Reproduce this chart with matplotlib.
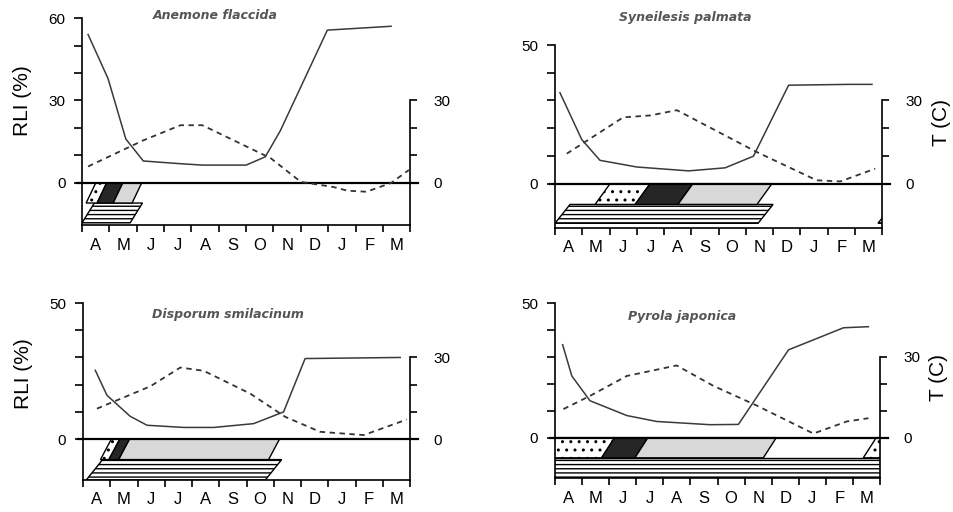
import matplotlib
matplotlib.use('Agg')
import matplotlib.pyplot as plt
from matplotlib.patches import Polygon

plt.rcParams['font.family'] = ['Liberation Sans', 'DejaVu Sans']
plt.rcParams['hatch.linewidth'] = 1.0

months = ['A', 'M', 'J', 'J', 'A', 'S', 'O', 'N', 'D', 'J', 'F', 'M']

# Anemone flaccida
af_rli_x = [0.22, 0.95, 1.6, 2.24, 3.6, 4.4, 6.0, 6.7, 7.25, 8.97, 11.3]
af_rli = [54, 38, 16, 8, 7, 6.5, 6.5, 9.5, 19, 55.6, 57]
af_t_x = [0.22, 2.24, 3.6, 4.4, 6.9, 8.0, 9.2, 9.7, 10.4, 11.3, 11.95]
af_t = [6, 15.5, 21, 21, 9, 0.4, -1.5, -2.8, -3.2, 0, 4.7]
af_up_start = [0.15, 0.55, 1.14]
af_up_end = [0.55, 1.14, 1.83]
af_up_kind = ['dot', 'dark', 'grey']
af_low_start = [0.0]
af_low_end = [1.76]

# Syneilesis palmata
sp_rli_x = [0.18, 0.98, 1.65, 3.0, 4.9, 6.24, 7.28, 8.57, 10.77, 11.63]
sp_rli = [32.8, 15.9, 8.4, 6.0, 4.6, 5.7, 9.9, 35.5, 35.8, 35.8]
sp_t_x = [0.43, 2.5, 3.5, 4.47, 7.4, 9.6, 10.47, 11.75]
sp_t = [10.8, 23.9, 24.6, 26.5, 11.4, 1.2, 0.8, 5.4]
sp_up_start = [1.47, 2.94, 4.51]
sp_up_end = [2.94, 4.51, 7.41]
sp_up_kind = ['dot', 'dark', 'grey']
sp_low_start = [0.0, 11.85]
sp_low_end = [7.45, 12.6]

# Disporum smilacinum
ds_rli_x = [0.45, 0.88, 1.73, 2.35, 3.7, 4.8, 6.26, 7.36, 8.15, 11.64]
ds_rli = [25.3, 16.1, 8.4, 5.1, 4.3, 4.3, 5.7, 10.0, 29.6, 30.0]
ds_t_x = [0.51, 2.47, 3.57, 4.43, 6.14, 7.42, 8.7, 10.3, 11.88]
ds_t = [11.2, 19.4, 26.3, 25.1, 16.7, 8.2, 2.7, 1.5, 7.2]
ds_up_start = [0.64, 0.95, 1.31]
ds_up_end = [0.95, 1.31, 6.81]
ds_up_kind = ['dot', 'dark', 'grey']
ds_low_start = [0.12]
ds_low_end = [6.69]

# Pyrola japonica
pj_rli_x = [0.28, 0.62, 1.29, 2.65, 3.75, 5.72, 6.77, 8.62, 10.65, 11.57]
pj_rli = [34.5, 22.9, 13.7, 8.2, 6.0, 4.8, 4.9, 32.6, 40.8, 41.2]
pj_t_x = [0.31, 1.29, 2.65, 4.49, 5.85, 7.45, 9.54, 10.77, 11.57]
pj_t = [10.6, 15.5, 22.9, 26.8, 19.2, 11.9, 1.5, 6.0, 7.2]
pj_up_start = [-0.6, 1.72, 2.95, 11.38]
pj_up_end = [1.72, 2.95, 7.69, 12.6]
pj_up_kind = ['dot', 'dark', 'grey', 'dot']
pj_low_start = [-1.0]
pj_low_end = [13.0]

styles = {
    'dot': dict(facecolor='white', hatch='..'),
    'dark': dict(facecolor='#262626'),
    'grey': dict(facecolor='#d8d8d8'),
    'line': dict(facecolor='white', hatch='----'),
}


def band(ax, x0, x1, ytop, ybot, slant, kind):
    verts = [(x0, ybot), (x1, ybot), (x1 + slant, ytop), (x0 + slant, ytop)]
    p = Polygon(verts, closed=True, edgecolor='black', linewidth=1.0, **styles[kind])
    ax.add_patch(p)


fig = plt.figure(figsize=(9.54, 5.12), dpi=100)

panels = [
    dict(rect=[0.086, 0.5605, 0.344, 0.4043], ytop=60, ybot=-15.3, lab=[0, 30, 60],
         rx=af_rli_x, ry=af_rli, tx=af_t_x, ty=af_t,
         us=af_up_start, ue=af_up_end, uk=af_up_kind, ls=af_low_start, le=af_low_end,
         slant=0.35, lslant=0.45, ub=-7.3, lb=-14.5,
         title='Anemone flaccida', tpos=(0.2254, 0.9707), rlabel=True, tlabel=False),
    dict(rect=[0.5818, 0.5547, 0.3428, 0.3574], ytop=50, ybot=-16, lab=[0, 50],
         rx=sp_rli_x, ry=sp_rli, tx=sp_t_x, ty=sp_t,
         us=sp_up_start, ue=sp_up_end, uk=sp_up_kind, ls=sp_low_start, le=sp_low_end,
         slant=0.55, lslant=0.55, ub=-7.5, lb=-14.3,
         title='Syneilesis palmata', tpos=(0.718, 0.965), rlabel=False, tlabel=True),
    dict(rect=[0.087, 0.0625, 0.3428, 0.3457], ytop=50, ybot=-15, lab=[0, 50],
         rx=ds_rli_x, ry=ds_rli, tx=ds_t_x, ty=ds_t,
         us=ds_up_start, ue=ds_up_end, uk=ds_up_kind, ls=ds_low_start, le=ds_low_end,
         slant=0.4, lslant=0.6, ub=-7.5, lb=-15,
         title='Disporum smilacinum', tpos=(0.239, 0.385), rlabel=True, tlabel=False),
    dict(rect=[0.5818, 0.0664, 0.3407, 0.3418], ytop=50, ybot=-15, lab=[0, 50],
         rx=pj_rli_x, ry=pj_rli, tx=pj_t_x, ty=pj_t,
         us=pj_up_start, ue=pj_up_end, uk=pj_up_kind, ls=pj_low_start, le=pj_low_end,
         slant=0.48, lslant=0.0, ub=-7.5, lb=-15,
         title='Pyrola japonica', tpos=(0.715, 0.381), rlabel=False, tlabel=True),
]

for pn in panels:
    ax = fig.add_axes(pn['rect'])
    ax.set_xlim(0, 12)
    ax.set_ylim(pn['ybot'], pn['ytop'])

    # phenology bars
    for s, e in zip(pn['ls'], pn['le']):
        band(ax, s, e, pn['ub'], pn['lb'], pn['lslant'], 'line')
    for s, e, k in zip(pn['us'], pn['ue'], pn['uk']):
        band(ax, s, e, 0, pn['ub'], pn['slant'], k)

    ax.plot(pn['rx'], pn['ry'], color='#3a3a3a', linewidth=1.1)
    ax.axhline(0, xmin=-0.015, xmax=1.025, color='black', linewidth=1.6, clip_on=False, zorder=5)

    for side in ['top', 'right']:
        ax.spines[side].set_visible(False)
    ax.spines['left'].set_linewidth(1.2)
    ax.spines['bottom'].set_linewidth(1.2)

    yt = list(range(0, pn['ytop'] + 1, 10))
    ax.set_yticks(yt)
    ax.set_yticklabels([str(v) if v in pn['lab'] else '' for v in yt])
    ax.tick_params(axis='y', direction='out', length=6, width=1.2, pad=6, labelsize=11)

    ax.set_xticks(range(13))
    ax.set_xticklabels([])
    ax.set_xticks([i + 0.5 for i in range(12)], minor=True)
    ax.set_xticklabels(months, minor=True, fontsize=12)
    ax.tick_params(axis='x', which='major', direction='out', length=5, width=1.2)
    ax.tick_params(axis='x', which='minor', length=0, pad=9)

    # temperature axis
    ax2 = ax.twinx()
    ax2.set_ylim(pn['ybot'], pn['ytop'])
    ax2.plot(pn['tx'], pn['ty'], color='#333333', linewidth=1.3, linestyle=(0, (3, 2.5)))
    for side in ['top', 'left', 'bottom']:
        ax2.spines[side].set_visible(False)
    ax2.spines['right'].set_bounds(pn['ybot'], 30)
    ax2.spines['right'].set_linewidth(1.2)
    ax2.set_yticks([0, 10, 20, 30])
    ax2.set_yticklabels(['0', '', '', '30'])
    ax2.tick_params(axis='y', direction='out', length=5, width=1.2, pad=12, labelsize=11)

    if pn['rlabel']:
        ax.set_ylabel('RLI (%)', fontsize=15)
        ax.yaxis.set_label_coords(-0.152, 0.6)
    if pn['tlabel']:
        ax2.set_ylabel('T (C)', fontsize=15)
        ax2.yaxis.set_label_coords(1.152, 0.575)

    fig.text(pn['tpos'][0], pn['tpos'][1], pn['title'], ha='center', va='center',
             family='DejaVu Sans', style='italic', weight='bold', fontsize=9, color='#555555')

fig.savefig('out.png', dpi=100)
